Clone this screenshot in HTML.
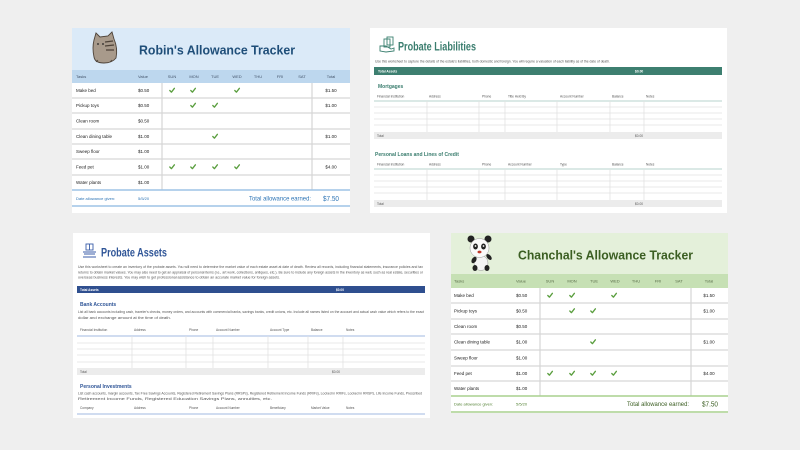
<!DOCTYPE html>
<html><head><meta charset="utf-8"><style>
html,body{margin:0;padding:0;background:#efefef;}
svg{display:block;}
text{font-family:"Liberation Sans",sans-serif;}
</style></head><body>
<svg width="800" height="450" viewBox="0 0 800 450" xmlns="http://www.w3.org/2000/svg">
<defs>
<path id="ck" d="M-2.2,0 L-0.6,1.7 L2.4,-2.2" fill="none" stroke="#5a9e3e" stroke-width="1.3" stroke-linecap="round" stroke-linejoin="round"/>
</defs>
<rect x="0" y="0" width="800" height="450" fill="#efefef"/>

<!-- ================= CARD 1: Robin's ================= -->
<rect x="72" y="28" width="278" height="185" fill="#fff"/>
<rect x="72" y="28" width="278" height="42" fill="#dbeaf8"/>
<!-- cat -->
<g>
<path d="M94,40 L96,33 L100,37 L108,36 L112,32 L114,39 Q118,48 116,58 Q112,63 104,63 Q95,63 94,57 Q92,48 94,40 Z" fill="#a89a8b" stroke="#4d4238" stroke-width="0.9"/>
<path d="M105,42 L113,41 M105,46 L114,45 M106,50 L114,50" stroke="#4d4238" stroke-width="1.3"/>
<circle cx="98" cy="44" r="0.9" fill="#222"/><circle cx="103" cy="44" r="0.9" fill="#222"/>
<path d="M96,62 L98,60 M110,62 L112,60" stroke="#4d4238" stroke-width="0.8"/>
</g>
<text x="217" y="54.5" font-size="13" font-weight="bold" fill="#1f4e79" text-anchor="middle" textLength="156" lengthAdjust="spacingAndGlyphs">Robin's Allowance Tracker</text>
<rect x="72" y="70" width="278" height="13" fill="#bdd7ee"/>
<g font-size="4" fill="#44546a">
<text x="76" y="78">Tasks</text>
<text x="138" y="78">Value</text>
<g text-anchor="middle">
<text x="172" y="78">SUN</text><text x="194" y="78">MON</text><text x="215" y="78">TUE</text><text x="237" y="78">WED</text><text x="258" y="78">THU</text><text x="280" y="78">FRI</text><text x="302" y="78">SAT</text><text x="331" y="78">Total</text>
</g></g>
<g stroke="#d6d6d6" stroke-width="1.2">
<line x1="72" y1="98" x2="350" y2="98"/><line x1="72" y1="113" x2="350" y2="113"/><line x1="72" y1="129" x2="350" y2="129"/><line x1="72" y1="144" x2="350" y2="144"/><line x1="72" y1="159" x2="350" y2="159"/><line x1="72" y1="175" x2="350" y2="175"/>
<line x1="162" y1="83" x2="162" y2="190"/><line x1="312" y1="83" x2="312" y2="190"/>
</g>
<g stroke="#9dc3e6" stroke-width="1.5"><line x1="72" y1="190" x2="350" y2="190"/><line x1="72" y1="206" x2="350" y2="206"/></g>
<g font-size="4.5" fill="#222">
<text x="76" y="92">Make bed</text><text x="138" y="92">$0.50</text><text x="331" y="92" text-anchor="middle">$1.50</text>
<text x="76" y="107">Pickup toys</text><text x="138" y="107">$0.50</text><text x="331" y="107" text-anchor="middle">$1.00</text>
<text x="76" y="122.5">Clean room</text><text x="138" y="122.5">$0.50</text>
<text x="76" y="138">Clean dining table</text><text x="138" y="138">$1.00</text><text x="331" y="138" text-anchor="middle">$1.00</text>
<text x="76" y="153">Sweep floor</text><text x="138" y="153">$1.00</text>
<text x="76" y="168.5">Feed pet</text><text x="138" y="168.5">$1.00</text><text x="331" y="168.5" text-anchor="middle">$4.00</text>
<text x="76" y="184">Water plants</text><text x="138" y="184">$1.00</text>
</g>
<use href="#ck" x="172" y="90.5"/><use href="#ck" x="193" y="90.5"/><use href="#ck" x="237" y="90.5"/>
<use href="#ck" x="193" y="105.5"/><use href="#ck" x="215" y="105.5"/>
<use href="#ck" x="215" y="136.5"/>
<use href="#ck" x="172" y="167"/><use href="#ck" x="193" y="167"/><use href="#ck" x="215" y="167"/><use href="#ck" x="237" y="167"/>
<text x="76" y="200" font-size="4" fill="#2e75b6">Date allowance given:</text>
<text x="138" y="200" font-size="4" fill="#2e75b6">5/5/20</text>
<text x="249" y="200.5" font-size="6.5" fill="#2e75b6" textLength="62" lengthAdjust="spacingAndGlyphs">Total allowance earned:</text>
<text x="323" y="201" font-size="7" fill="#2e75b6" textLength="16" lengthAdjust="spacingAndGlyphs">$7.50</text>

<!-- ================= CARD 2: Probate Liabilities ================= -->
<rect x="370" y="28" width="357" height="185" fill="#fff"/>
<g fill="none" stroke="#3b8070" stroke-width="0.9">
<rect x="384" y="39" width="6" height="8"/><rect x="387" y="37" width="6" height="8"/>
<path d="M380,46 L386,46 L391,49 L394,48 L394,51 L386,52 L380,51 Z"/>
</g>
<text x="398" y="50.5" font-size="12" font-weight="bold" fill="#3a7d6e" textLength="78" lengthAdjust="spacingAndGlyphs">Probate Liabilities</text>
<text x="375" y="62.5" font-size="3.2" fill="#555" textLength="235" lengthAdjust="spacingAndGlyphs">Use this worksheet to capture the details of the estate's liabilities, both domestic and foreign. You will require a valuation of each liability as of the date of death.</text>
<rect x="374" y="67" width="348" height="8" fill="#3d7f70"/>
<text x="378" y="72.3" font-size="3.3" font-weight="bold" fill="#fff">Total Assets</text>
<text x="635" y="72.3" font-size="3.3" font-weight="bold" fill="#fff">$0.00</text>
<text x="378" y="88" font-size="5" font-weight="bold" fill="#3a7d6e">Mortgages</text>
<g font-size="3.2" fill="#555">
<text x="377" y="97.5">Financial Institution</text><text x="429" y="97.5">Address</text><text x="482" y="97.5">Phone</text><text x="508" y="97.5">Title Held By</text><text x="560" y="97.5">Account Number</text><text x="612" y="97.5">Balance</text><text x="646" y="97.5">Notes</text>
</g>
<line x1="374" y1="101" x2="722" y2="101" stroke="#c5dcd6" stroke-width="1.2"/>
<g stroke="#e2e2e2" stroke-width="0.8">
<line x1="374" y1="107" x2="722" y2="107"/><line x1="374" y1="113" x2="722" y2="113"/><line x1="374" y1="119" x2="722" y2="119"/><line x1="374" y1="125" x2="722" y2="125"/>
<line x1="427" y1="101" x2="427" y2="139"/><line x1="479" y1="101" x2="479" y2="139"/><line x1="505" y1="101" x2="505" y2="139"/><line x1="557" y1="101" x2="557" y2="139"/><line x1="610" y1="101" x2="610" y2="139"/><line x1="644" y1="101" x2="644" y2="139"/>
</g>
<rect x="374" y="132" width="348" height="7" fill="#ececec"/>
<text x="377" y="136.8" font-size="3.2" fill="#555">Total</text>
<text x="643" y="136.8" font-size="3.2" fill="#555" text-anchor="end">$0.00</text>
<text x="375" y="156" font-size="5" font-weight="bold" fill="#3a7d6e">Personal Loans and Lines of Credit</text>
<g font-size="3.2" fill="#555">
<text x="377" y="165.5">Financial Institution</text><text x="429" y="165.5">Address</text><text x="482" y="165.5">Phone</text><text x="508" y="165.5">Account Number</text><text x="560" y="165.5">Type</text><text x="612" y="165.5">Balance</text><text x="646" y="165.5">Notes</text>
</g>
<line x1="374" y1="169" x2="722" y2="169" stroke="#c5dcd6" stroke-width="1.2"/>
<g stroke="#e2e2e2" stroke-width="0.8">
<line x1="374" y1="175" x2="722" y2="175"/><line x1="374" y1="181" x2="722" y2="181"/><line x1="374" y1="187" x2="722" y2="187"/><line x1="374" y1="193" x2="722" y2="193"/>
<line x1="427" y1="169" x2="427" y2="207"/><line x1="479" y1="169" x2="479" y2="207"/><line x1="505" y1="169" x2="505" y2="207"/><line x1="557" y1="169" x2="557" y2="207"/><line x1="610" y1="169" x2="610" y2="207"/><line x1="644" y1="169" x2="644" y2="207"/>
</g>
<rect x="374" y="200" width="348" height="7" fill="#ececec"/>
<text x="377" y="204.8" font-size="3.2" fill="#555">Total</text>
<text x="643" y="204.8" font-size="3.2" fill="#555" text-anchor="end">$0.00</text>

<!-- ================= CARD 3: Probate Assets ================= -->
<rect x="73" y="233" width="357" height="185" fill="#fff"/>
<g fill="none" stroke="#3b5ea8" stroke-width="0.9">
<rect x="86" y="244" width="7" height="6"/><line x1="89.5" y1="244" x2="89.5" y2="250"/>
<path d="M83,252 L96,252 M84,254 L95,254 M83,257 L96,257"/>
</g>
<text x="101" y="256.5" font-size="12" font-weight="bold" fill="#2f5597" textLength="66" lengthAdjust="spacingAndGlyphs">Probate Assets</text>
<g font-size="3.2" fill="#555">
<text x="78" y="268" textLength="345" lengthAdjust="spacingAndGlyphs">Use this worksheet to create an inventory of the probate assets. You will need to determine the market value of each estate asset at date of death. Review all records, including financial statements, insurance policies and tax</text>
<text x="78" y="273.3" textLength="345" lengthAdjust="spacingAndGlyphs">returns to obtain market values. You may also need to get an appraisal of personal items (i.e., art work, collections, antiques, etc.). Be sure to include any foreign assets in the inventory as well, such as real estate, securities or</text>
<text x="78" y="278.6" textLength="202" lengthAdjust="spacingAndGlyphs">overseas business interests. You may wish to get professional assistance to obtain an accurate market value for foreign assets.</text>
</g>
<rect x="77" y="286" width="348" height="7" fill="#2f4f8f"/>
<text x="80" y="290.8" font-size="3.2" font-weight="bold" fill="#fff">Total Assets</text>
<text x="336" y="290.8" font-size="3.2" font-weight="bold" fill="#fff">$0.00</text>
<text x="80" y="306" font-size="5" font-weight="bold" fill="#2f5597">Bank Accounts</text>
<g font-size="3.2" fill="#555">
<text x="78" y="313" textLength="346" lengthAdjust="spacingAndGlyphs">List all bank accounts including cash, traveler's checks, money orders, and accounts with commercial banks, savings banks, credit unions, etc. Include all names listed on the account and actual cash value which refers to the exact</text>
<text x="78" y="318.8" textLength="93" lengthAdjust="spacingAndGlyphs">dollar and exchange amount at the time of death.</text>
</g>
<g font-size="3.2" fill="#555">
<text x="80" y="331">Financial Institution</text><text x="134" y="331">Address</text><text x="189" y="331">Phone</text><text x="216" y="331">Account Number</text><text x="270" y="331">Account Type</text><text x="311" y="331">Balance</text><text x="346" y="331">Notes</text>
</g>
<line x1="77" y1="336" x2="425" y2="336" stroke="#b4c7e7" stroke-width="1.2"/>
<g stroke="#e2e2e2" stroke-width="0.8">
<line x1="77" y1="343" x2="425" y2="343"/><line x1="77" y1="349" x2="425" y2="349"/><line x1="77" y1="355" x2="425" y2="355"/><line x1="77" y1="362" x2="425" y2="362"/>
<line x1="132" y1="336" x2="132" y2="375"/><line x1="186" y1="336" x2="186" y2="375"/><line x1="213" y1="336" x2="213" y2="375"/><line x1="268" y1="336" x2="268" y2="375"/><line x1="308" y1="336" x2="308" y2="375"/><line x1="343" y1="336" x2="343" y2="375"/>
</g>
<rect x="77" y="368" width="348" height="7" fill="#ececec"/>
<text x="80" y="372.8" font-size="3.2" fill="#555">Total</text>
<text x="340" y="372.8" font-size="3.2" fill="#555" text-anchor="end">$0.00</text>
<text x="80" y="388" font-size="5" font-weight="bold" fill="#2f5597">Personal Investments</text>
<g font-size="3.2" fill="#555">
<text x="78" y="394.5" textLength="344" lengthAdjust="spacingAndGlyphs">List cash accounts, margin accounts, Tax Free Savings Accounts, Registered Retirement Savings Plans (RRSPs), Registered Retirement Income Funds (RRIFs), Locked in RRIFs, Locked in RRSPs, Life Income Funds, Prescribed</text>
<text x="78" y="400" textLength="194" lengthAdjust="spacingAndGlyphs">Retirement Income Funds, Registered Education Savings Plans, annuities, etc.</text>
</g>
<g font-size="3.2" fill="#555">
<text x="80" y="409">Company</text><text x="134" y="409">Address</text><text x="189" y="409">Phone</text><text x="216" y="409">Account Number</text><text x="270" y="409">Beneficiary</text><text x="311" y="409">Market Value</text><text x="346" y="409">Notes</text>
</g>
<line x1="77" y1="414" x2="425" y2="414" stroke="#b4c7e7" stroke-width="1.2"/>

<!-- ================= CARD 4: Chanchal's ================= -->
<rect x="451" y="233" width="277" height="180" fill="#fff"/>
<rect x="451" y="233" width="277" height="41" fill="#e4f0da"/>
<!-- panda -->
<g>
<ellipse cx="481" cy="263" rx="7" ry="7.5" fill="#f4f4f4" stroke="#999" stroke-width="0.5"/>
<ellipse cx="475" cy="268" rx="2.5" ry="3" fill="#222"/><ellipse cx="487" cy="268" rx="2.5" ry="3" fill="#222"/>
<ellipse cx="474" cy="260" rx="2.2" ry="3.5" fill="#222" transform="rotate(30 474 260)"/>
<ellipse cx="489" cy="257" rx="2" ry="3.5" fill="#222" transform="rotate(-40 489 257)"/>
<circle cx="471" cy="239" r="3.5" fill="#222"/><circle cx="488" cy="239" r="3.5" fill="#222"/>
<circle cx="479.5" cy="248" r="9.5" fill="#fafafa" stroke="#999" stroke-width="0.5"/>
<ellipse cx="475.5" cy="246.5" rx="2.4" ry="3" fill="#222"/><ellipse cx="483.5" cy="246.5" rx="2.4" ry="3" fill="#222"/>
<circle cx="475.5" cy="246" r="0.9" fill="#fff"/><circle cx="483.5" cy="246" r="0.9" fill="#fff"/>
<ellipse cx="479.5" cy="252" rx="2" ry="1.4" fill="#c0392b"/>
</g>
<text x="605.5" y="259.5" font-size="13" font-weight="bold" fill="#3b5e22" text-anchor="middle" textLength="175" lengthAdjust="spacingAndGlyphs">Chanchal's Allowance Tracker</text>
<rect x="451" y="274" width="277" height="14" fill="#c6e0b4"/>
<g font-size="4" fill="#5a6e4a">
<text x="454" y="282.5">Tasks</text>
<text x="516" y="282.5">Value</text>
<g text-anchor="middle">
<text x="550" y="282.5">SUN</text><text x="572" y="282.5">MON</text><text x="594" y="282.5">TUE</text><text x="615" y="282.5">WED</text><text x="636" y="282.5">THU</text><text x="658" y="282.5">FRI</text><text x="679" y="282.5">SAT</text><text x="709" y="282.5">Total</text>
</g></g>
<g stroke="#d6d6d6" stroke-width="1.2">
<line x1="451" y1="303" x2="728" y2="303"/><line x1="451" y1="319" x2="728" y2="319"/><line x1="451" y1="334" x2="728" y2="334"/><line x1="451" y1="350" x2="728" y2="350"/><line x1="451" y1="366" x2="728" y2="366"/><line x1="451" y1="381" x2="728" y2="381"/>
<line x1="540" y1="288" x2="540" y2="396"/><line x1="691" y1="288" x2="691" y2="396"/>
</g>
<g stroke="#a9d08e" stroke-width="1.5"><line x1="451" y1="396" x2="728" y2="396"/><line x1="451" y1="412" x2="728" y2="412"/></g>
<g font-size="4.5" fill="#222">
<text x="454" y="297">Make bed</text><text x="516" y="297">$0.50</text><text x="709" y="297" text-anchor="middle">$1.50</text>
<text x="454" y="312.5">Pickup toys</text><text x="516" y="312.5">$0.50</text><text x="709" y="312.5" text-anchor="middle">$1.00</text>
<text x="454" y="328">Clean room</text><text x="516" y="328">$0.50</text>
<text x="454" y="343.5">Clean dining table</text><text x="516" y="343.5">$1.00</text><text x="709" y="343.5" text-anchor="middle">$1.00</text>
<text x="454" y="359.5">Sweep floor</text><text x="516" y="359.5">$1.00</text>
<text x="454" y="375">Feed pet</text><text x="516" y="375">$1.00</text><text x="709" y="375" text-anchor="middle">$4.00</text>
<text x="454" y="390">Water plants</text><text x="516" y="390">$1.00</text>
</g>
<use href="#ck" x="550" y="295.5"/><use href="#ck" x="572" y="295.5"/><use href="#ck" x="614" y="295.5"/>
<use href="#ck" x="572" y="311"/><use href="#ck" x="593" y="311"/>
<use href="#ck" x="593" y="342"/>
<use href="#ck" x="550" y="373.5"/><use href="#ck" x="572" y="373.5"/><use href="#ck" x="593" y="373.5"/><use href="#ck" x="614" y="373.5"/>
<text x="454" y="405.5" font-size="4" fill="#548235">Date allowance given:</text>
<text x="516" y="405.5" font-size="4" fill="#548235">5/5/20</text>
<text x="627" y="406" font-size="6.5" fill="#3b5e22" textLength="62" lengthAdjust="spacingAndGlyphs">Total allowance earned:</text>
<text x="702" y="406.5" font-size="7" fill="#3b5e22" textLength="16" lengthAdjust="spacingAndGlyphs">$7.50</text>
</svg>
</body></html>
